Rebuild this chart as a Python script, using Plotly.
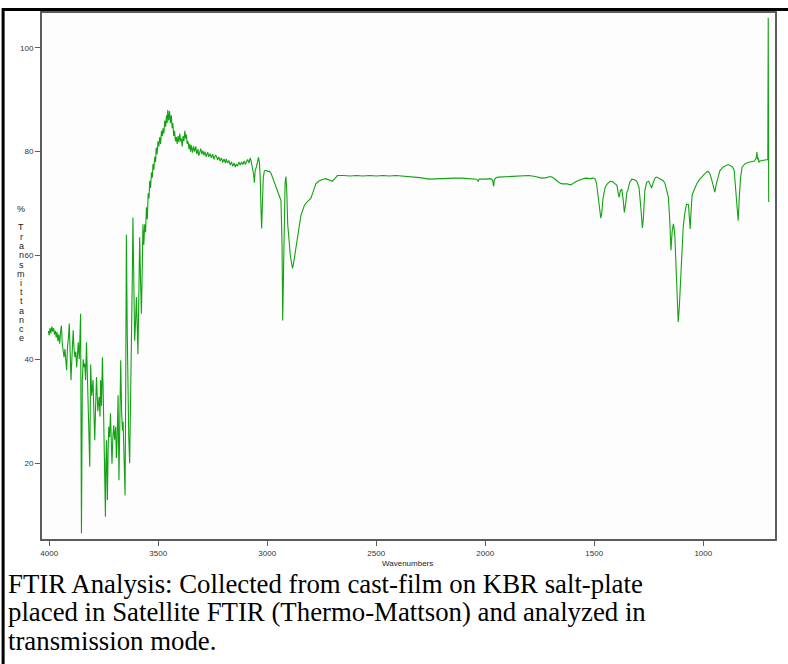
import plotly.graph_objects as go

# ---- data ----
wavenumber = [
    4004, 4000, 3996, 3992, 3988, 3984, 3980, 3976, 3972, 3968, 3964, 3960, 3956, 3952, 3948, 3944,
    3940, 3936, 3932, 3928, 3924, 3920, 3916, 3912, 3908, 3904, 3900, 3896, 3892, 3890, 3886, 3882,
    3878, 3874, 3870, 3867, 3862, 3858, 3856, 3852, 3848, 3844, 3840, 3837, 3833, 3829, 3825, 3822,
    3818, 3814, 3810, 3805, 3799, 3795, 3791, 3787, 3783, 3777, 3771, 3767, 3764, 3760, 3756, 3752,
    3750, 3746, 3742, 3740, 3737, 3735, 3733, 3730, 3727, 3723, 3719, 3715, 3712, 3708, 3704, 3700,
    3695, 3692, 3689, 3684, 3682, 3680, 3676, 3672, 3668, 3664, 3661, 3658, 3655, 3652, 3649, 3646,
    3642, 3639, 3635, 3631, 3627, 3623, 3619, 3616, 3612, 3608, 3604, 3600, 3596, 3593, 3589, 3585,
    3581, 3577, 3573, 3570, 3566, 3562, 3558, 3554, 3550, 3546, 3542, 3539, 3535, 3531, 3527, 3524,
    3520, 3516, 3512, 3509, 3505, 3501, 3497, 3493, 3489, 3485, 3481, 3478, 3474, 3470, 3466, 3462,
    3459, 3456, 3452, 3448, 3444, 3440, 3436, 3433, 3429, 3425, 3421, 3417, 3413, 3409, 3405, 3401,
    3397, 3394, 3390, 3386, 3382, 3378, 3374, 3371, 3367, 3363, 3359, 3355, 3352, 3348, 3343, 3338,
    3333, 3328, 3323, 3318, 3314, 3310, 3305, 3300, 3295, 3290, 3285, 3280, 3273, 3268, 3262, 3256,
    3250, 3244, 3238, 3234, 3228, 3222, 3216, 3210, 3204, 3198, 3192, 3188, 3182, 3176, 3170, 3164,
    3158, 3152, 3146, 3142, 3136, 3130, 3124, 3118, 3112, 3106, 3100, 3097, 3090, 3084, 3078, 3074,
    3068, 3062, 3059, 3055, 3050, 3045, 3040, 3036, 3032, 3028, 3025.5, 3022, 3018, 3013, 3005, 2998,
    2990, 2982, 2975, 2968, 2960, 2952, 2944, 2937, 2932, 2929, 2926, 2922, 2918, 2914, 2910, 2906,
    2900, 2894, 2888, 2884, 2878, 2870, 2862, 2853, 2845, 2838, 2830, 2820, 2810, 2800, 2790, 2777,
    2765, 2750, 2731, 2715, 2701, 2690, 2678, 2650, 2620, 2590, 2563, 2530, 2500, 2470, 2440, 2410,
    2380, 2335, 2300, 2258, 2220, 2180, 2140, 2106, 2070, 2040, 2032, 2028, 2000, 1975, 1966, 1962,
    1958, 1950, 1938, 1900, 1860, 1830, 1801, 1770, 1741, 1720, 1701, 1690, 1675, 1660, 1648, 1625,
    1610, 1603, 1585, 1565, 1541, 1520, 1505, 1496, 1490, 1482, 1475, 1470, 1466, 1460, 1450, 1440,
    1427, 1415, 1404, 1396, 1390, 1386, 1380, 1374, 1368, 1362, 1356, 1350, 1346, 1338, 1328, 1315,
    1305, 1295, 1288, 1282, 1279, 1275, 1268, 1260, 1250, 1243, 1237, 1230, 1220, 1214, 1200, 1190,
    1183, 1175, 1166, 1160, 1154, 1150, 1148, 1143, 1137, 1133, 1130, 1125, 1120, 1115, 1110, 1104,
    1098, 1092, 1085, 1077, 1068, 1064, 1060, 1056, 1051, 1040, 1030, 1018, 1008, 995, 985, 977,
    970, 962, 955, 947, 940, 932, 924, 910, 895, 886, 875, 865, 858, 852, 846, 840,
    835, 829, 822, 810, 795, 779, 765, 757, 754, 751, 747, 745, 740, 730, 720, 710,
    704, 702, 701, 700,
]
transmittance = [
    45.5, 44.6, 46.0, 45.0, 46.3, 45.4, 46.0, 44.8, 45.5, 44.2, 45.3, 43.5, 44.8, 43.0, 45.2, 46.5,
    43.0, 41.5, 40.4, 42.0, 39.5, 37.9, 42.5, 44.0, 46.9, 41.0, 36.0, 40.0, 43.5, 45.6, 42.0, 40.4,
    41.5, 38.5, 41.0, 43.3, 40.0, 45.0, 48.8, 6.5, 36.0, 40.0, 38.5, 39.2, 36.0, 43.3, 35.0, 29.6,
    26.0, 19.3, 39.0, 33.0, 36.0, 30.0, 24.4, 31.0, 36.6, 30.0, 32.8, 29.0, 36.0, 31.0, 40.4, 33.0,
    28.3, 22.0, 9.7, 20.0, 24.4, 18.0, 12.9, 22.0, 27.0, 25.0, 29.6, 24.0, 19.9, 25.0, 27.3, 24.5,
    27.0, 21.0, 23.5, 33.1, 25.0, 16.7, 28.0, 39.8, 30.0, 26.3, 28.0, 23.5, 18.0, 13.8, 35.0, 64.0,
    45.0, 33.0, 25.0, 20.0, 30.0, 40.0, 55.0, 67.3, 55.0, 43.6, 47.0, 52.0, 46.0, 41.0, 52.0, 63.5,
    55.0, 48.8, 58.0, 66.0, 62.0, 66.0, 64.5, 69.3, 67.0, 72.0, 71.0, 74.4, 73.0, 76.0, 75.0, 77.6,
    76.5, 79.0, 78.0, 80.8, 79.5, 82.0, 81.0, 82.8, 81.5, 84.0, 83.0, 84.5, 83.5, 86.0, 84.8, 87.0,
    85.5, 88.0, 86.0, 87.8, 85.5, 87.0, 84.5, 85.5, 83.0, 84.0, 82.0, 82.8, 81.5, 83.0, 81.8, 83.5,
    82.0, 82.5, 81.0, 83.0, 82.0, 84.0, 82.5, 83.3, 81.5, 82.0, 80.5, 81.5, 80.0, 81.2, 79.8, 81.0,
    80.0, 81.0, 79.5, 80.5, 79.2, 79.9, 80.6, 79.5, 80.2, 79.3, 80.0, 79.0, 79.9, 79.0, 79.6, 78.8,
    79.5, 78.5, 79.3, 79.2, 78.4, 79.0, 78.2, 78.8, 77.9, 78.6, 77.8, 78.6, 77.8, 78.3, 77.4, 78.0,
    77.2, 77.8, 77.0, 77.6, 77.2, 78.0, 77.4, 78.0, 77.5, 78.2, 77.5, 77.9, 78.5, 77.8, 78.8, 78.2,
    77.0, 75.5, 74.0, 76.5, 77.0, 78.0, 78.9, 78.0, 75.0, 68.0, 65.2, 70.0, 75.0, 76.3, 76.4, 76.2,
    76.2, 75.8, 75.0, 74.2, 73.3, 72.5, 71.5, 70.6, 62.0, 47.5, 55.0, 70.0, 74.0, 75.2, 72.0, 66.0,
    62.5, 60.0, 58.5, 57.5, 58.8, 61.0, 63.5, 66.0, 67.8, 68.6, 69.6, 70.2, 70.6, 71.0, 72.2, 73.8,
    74.3, 74.6, 74.8, 74.6, 74.3, 74.8, 75.4, 75.4, 75.3, 75.4, 75.3, 75.4, 75.3, 75.4, 75.3, 75.4,
    75.3, 75.2, 75.0, 74.7, 74.8, 74.9, 74.9, 74.9, 74.8, 74.7, 74.3, 74.7, 74.7, 74.8, 74.5, 73.3,
    74.6, 75.0, 75.1, 75.2, 75.3, 75.4, 75.4, 75.2, 74.9, 75.0, 75.2, 75.0, 74.5, 74.0, 73.8, 73.8,
    73.6, 73.7, 74.2, 74.6, 74.9, 74.8, 74.9, 74.7, 74.0, 71.5, 68.5, 67.2, 68.0, 71.0, 73.1, 73.8,
    74.3, 74.2, 73.8, 73.5, 72.0, 71.2, 72.5, 72.8, 71.0, 68.3, 70.0, 72.3, 72.5, 74.0, 74.7, 74.6,
    74.3, 73.2, 70.0, 66.5, 65.3, 67.0, 72.5, 74.1, 74.3, 73.6, 73.0, 74.0, 75.0, 75.1, 74.8, 74.6,
    74.4, 73.8, 72.5, 71.2, 67.0, 62.0, 61.0, 64.5, 66.1, 65.0, 63.5, 58.0, 52.0, 47.2, 50.0, 56.0,
    62.0, 65.5, 68.0, 69.9, 69.8, 67.0, 65.1, 68.5, 71.7, 72.8, 73.8, 74.6, 75.1, 75.8, 76.1, 76.2,
    75.8, 74.7, 73.5, 72.2, 73.8, 75.3, 76.3, 77.0, 77.4, 77.5, 77.3, 77.0, 76.3, 73.5, 70.0, 66.7,
    71.0, 75.0, 77.0, 77.6, 77.9, 78.1, 78.2, 78.8, 79.9, 78.6, 78.7, 77.9, 78.2, 78.3, 78.4, 78.4,
    78.5, 105.8, 90.0, 70.3,
]

x_tick_values = [4000, 3500, 3000, 2500, 2000, 1500, 1000]
y_tick_values = [20, 40, 60, 80, 100]
x_title = "Wavenumbers"
y_title = "% Transmittance"
caption_lines = [
    "FTIR Analysis: Collected from cast-film on KBR salt-plate",
    "placed in Satellite FTIR (Thermo-Mattson) and analyzed in",
    "transmission mode.",
]

# ---- layout geometry (pixels) ----
W, H = 788, 664
ML, MR, MT, MB = 42, 11, 13, 125
PW = W - ML - MR
PH = H - MT - MB


def px(xp):
    return (xp - ML) / PW


def py(yp):
    return (H - MB - yp) / PH


fig = go.Figure()
fig.add_trace(go.Scatter(
    x=wavenumber, y=transmittance, mode="lines",
    line=dict(color="#12a312", width=1.1),
    hoverinfo="skip", showlegend=False,
))

axis_common = dict(
    showline=True, mirror=True, linecolor="#5c5c5c", linewidth=2,
    ticks="outside", ticklen=5, tickwidth=1, tickcolor="#5c5c5c",
    showgrid=False, zeroline=False,
    tickfont=dict(family="Liberation Sans, Arial", size=8, color="#333333"),
)

fig.update_layout(
    width=W, height=H,
    margin=dict(l=ML, r=MR, t=MT, b=MB),
    paper_bgcolor="white", plot_bgcolor="#fdfdfd",
    xaxis=dict(range=[4033, 671], tickvals=x_tick_values, **axis_common),
    yaxis=dict(range=[5.4, 106.7], tickvals=y_tick_values, **axis_common),
)

annotations = []
# x-axis title
annotations.append(dict(
    text=x_title, xref="paper", yref="paper", x=px(408), y=py(563),
    xanchor="center", yanchor="middle", showarrow=False,
    font=dict(family="Liberation Sans, Arial", size=8, color="#222222"),
))
# y-axis title, letters stacked vertically
yp = 209.0
for ch in y_title:
    if ch != " ":
        annotations.append(dict(
            text=ch, xref="paper", yref="paper", x=px(21), y=py(yp),
            xanchor="center", yanchor="middle", showarrow=False,
            font=dict(family="Liberation Sans, Arial", size=9, color="#222222"),
        ))
    yp += 9.25
# caption, one annotation per line
caption_centers = [584, 612, 641]
for line, yc in zip(caption_lines, caption_centers):
    annotations.append(dict(
        text=line, xref="paper", yref="paper",
        x=px(6), y=py(yc), xanchor="left", yanchor="middle", align="left",
        showarrow=False,
        font=dict(family="Liberation Serif, Times New Roman", size=26.8, color="black"),
    ))
fig.update_layout(annotations=annotations)

# outer frame (top and left edges visible)
fig.add_shape(type="line", xref="paper", yref="paper",
              x0=px(2), x1=px(800), y0=py(9.5), y1=py(9.5),
              line=dict(color="black", width=3))
fig.add_shape(type="line", xref="paper", yref="paper",
              x0=px(3), x1=px(3), y0=py(8), y1=py(680),
              line=dict(color="black", width=3))

fig.write_html(
    "out.html",
    config={"displayModeBar": False},
    post_script="document.body.style.margin='0';document.body.style.overflow='hidden';",
)
